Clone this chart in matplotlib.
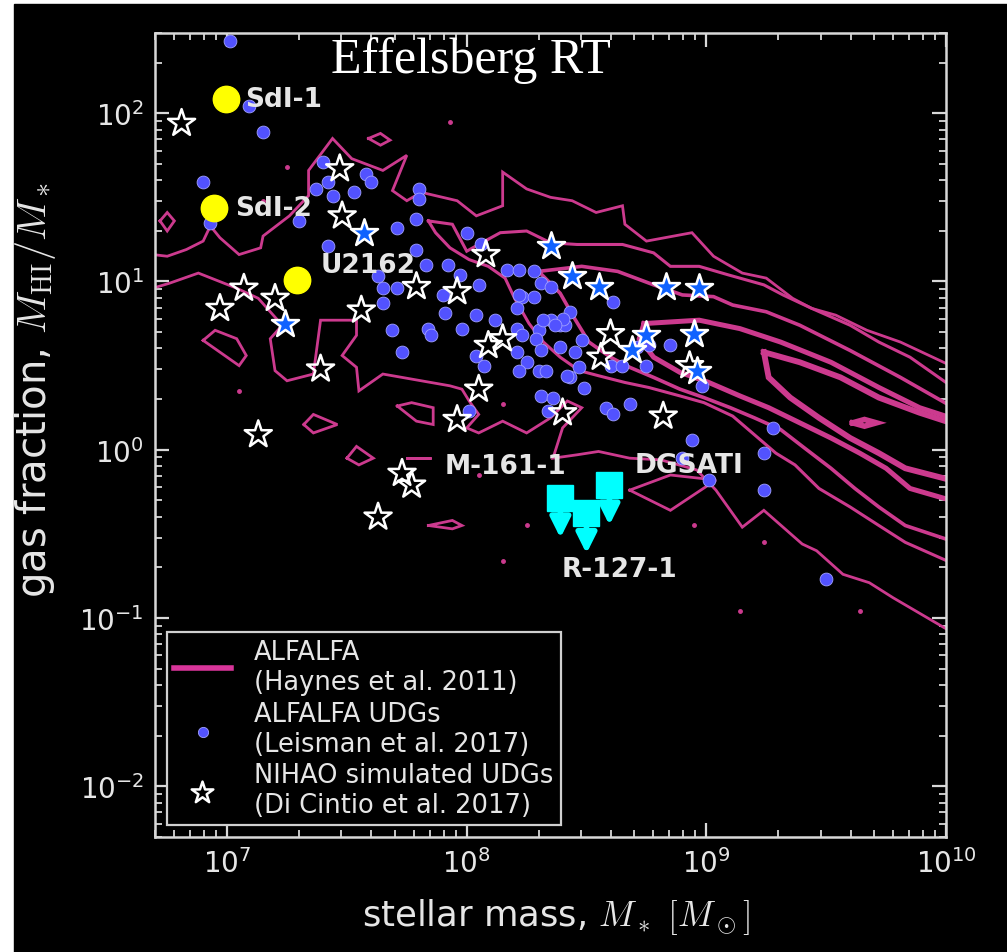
import numpy as np
import matplotlib
matplotlib.use("Agg")
import matplotlib.pyplot as plt
from matplotlib.lines import Line2D
from matplotlib.patches import Rectangle

plt.rcParams["axes.unicode_minus"] = False

# ---------------- data (log10 M*, log10 M_HI/M*) ----------------
# ALFALFA UDGs (Leisman et al. 2017)
udg_logm = [7.01, 7.09, 7.15, 6.90, 6.93, 7.40, 7.42, 7.37, 7.44, 7.53,
            7.58, 7.60, 7.80, 7.80, 7.30, 7.42, 7.71, 7.79, 7.79, 8.00,
            7.83, 7.92, 7.97, 8.06, 8.17, 8.22, 8.28, 8.31, 8.23, 8.21,
            8.05, 7.63, 7.65, 7.71, 7.90, 7.91, 7.98, 8.04, 8.12, 8.21,
            8.30, 8.35, 8.39, 8.32, 8.43, 7.65, 7.84, 7.85, 7.69, 7.73,
            8.04, 8.07, 8.23, 8.29, 8.31, 8.21, 8.25, 8.22, 8.30, 8.33,
            8.39, 8.45, 8.48, 8.47, 8.43, 8.49, 8.31, 8.36, 8.34, 8.01,
            8.41, 8.60, 8.65, 8.71, 8.76, 8.85, 8.75, 8.58, 8.61, 8.68,
            8.98, 8.94, 8.90, 9.01, 9.24, 9.28, 9.24, 9.50, 8.35, 8.61,
            8.40, 8.37, 8.28, 8.22, 8.42]
udg_logf = [2.43, 2.04, 1.89, 1.59, 1.35, 1.71, 1.59, 1.55, 1.51, 1.53,
            1.64, 1.59, 1.55, 1.49, 1.36, 1.21, 1.32, 1.37, 1.19, 1.29,
            1.10, 1.10, 1.04, 1.22, 1.07, 1.07, 1.06, 0.99, 0.91, 0.84,
            0.98, 1.03, 0.96, 0.96, 0.92, 0.81, 0.72, 0.80, 0.77, 0.72,
            0.71, 0.77, 0.74, 0.77, 0.82, 0.87, 0.72, 0.68, 0.71, 0.58,
            0.56, 0.50, 0.68, 0.66, 0.59, 0.58, 0.52, 0.47, 0.47, 0.47,
            0.61, 0.58, 0.65, 0.49, 0.43, 0.37, 0.32, 0.31, 0.23, 0.23,
            0.74, 0.50, 0.50, 0.61, 0.62, 0.62, 0.50, 0.25, 0.21, 0.27,
            0.38, 0.06, -0.05, -0.18, -0.02, 0.13, -0.24, -0.77, 0.97, 0.88,
            0.78, 0.74, 0.91, 0.92, 0.44]

# NIHAO simulated UDGs (Di Cintio et al. 2017)
nihao_logm = [6.81, 7.47, 7.48, 7.79, 7.96, 8.08, 6.97, 7.07, 7.20, 7.56,
              7.39, 8.05, 7.96, 8.09, 8.15, 8.40, 7.13, 7.73, 7.77, 7.63,
              8.60, 8.56, 8.82, 8.93]
nihao_logf = [1.94, 1.67, 1.39, 0.97, 0.94, 1.16, 0.84, 0.96, 0.90, 0.83,
              0.48, 0.36, 0.18, 0.62, 0.66, 0.22, 0.09, -0.14, -0.21, -0.40,
              0.69, 0.55, 0.20, 0.50]
# highlighted NIHAO subset
nihao_hl_logm = [7.57, 8.35, 8.44, 8.55, 8.83, 8.97, 7.24, 8.75, 8.69, 8.95, 8.96]
nihao_hl_logf = [1.29, 1.21, 1.03, 0.97, 0.97, 0.96, 0.75, 0.68, 0.59, 0.69, 0.47]

# Effelsberg detections
eff_names = ["SdI-1", "SdI-2", "U2162"]
eff_mstar = [9.9e6, 8.8e6, 1.96e7]
eff_frac = [121.0, 27.3, 10.2]

# Effelsberg upper limits
lim_names = ["M-161-1", "R-127-1", "DGSATI"]
lim_mstar = [2.46e8, 3.16e8, 3.94e8]
lim_frac = [0.52, 0.42, 0.62]

# ALFALFA (Haynes et al. 2011) density contours, log10 units
c1_top_logm = [6.69, 6.75, 6.83, 6.90, 6.93, 6.97, 7.05, 7.14, 7.15, 7.26, 7.34, 7.34,
               7.44, 7.52, 7.65, 7.75, 7.69, 7.75, 7.81, 7.96, 8.04, 8.15, 8.15, 8.25,
               8.35, 8.44, 8.54, 8.65, 8.66, 8.75, 8.94, 9.03, 9.15, 9.25, 9.36, 9.44,
               9.54, 9.67, 9.81, 10.02]
c1_top_logf = [1.16, 1.15, 1.19, 1.24, 1.33, 1.26, 1.16, 1.20, 1.27, 1.39, 1.51, 1.66,
               1.85, 1.73, 1.66, 1.75, 1.54, 1.48, 1.53, 1.48, 1.39, 1.45, 1.65, 1.55,
               1.50, 1.48, 1.41, 1.45, 1.34, 1.24, 1.29, 1.15, 1.05, 1.02, 0.90, 0.84,
               0.80, 0.71, 0.64, 0.50]
c1_bot_logm = [10.02, 9.78, 9.68, 9.57, 9.46, 9.40, 9.32, 9.24, 9.15, 9.04, 8.96, 8.81,
               8.68, 8.55, 8.46, 8.36, 8.40, 8.48, 8.42, 8.35, 8.25, 8.15, 8.05, 8.00,
               8.05, 8.01, 7.98, 7.93, 7.65, 7.55, 7.54, 7.48, 7.54, 7.54, 7.39, 7.36,
               7.25, 7.20, 7.18, 7.23, 7.13, 7.04, 6.88, 6.76, 6.69]
c1_bot_logf = [-1.08, -0.88, -0.79, -0.74, -0.60, -0.56, -0.46, -0.36, -0.46, -0.24, -0.12, -0.06,
               -0.05, -0.01, -0.03, -0.05, 0.13, 0.25, 0.29, 0.19, 0.10, 0.17, 0.10, 0.13,
               0.21, 0.29, 0.36, 0.38, 0.45, 0.35, 0.49, 0.56, 0.68, 0.77, 0.77, 0.45,
               0.41, 0.47, 0.66, 0.74, 0.90, 0.96, 1.05, 0.99, 0.96]
c2_logm = [7.84, 7.94, 8.00, 8.05, 8.14, 8.25, 8.35, 8.46, 8.65, 8.78, 8.85, 8.97,
           9.09, 9.24, 9.32, 9.44, 9.60, 9.72, 9.85, 10.02, 10.02, 9.83, 9.72, 9.60,
           9.47, 9.37, 9.29, 9.20, 9.11, 8.99, 8.89, 8.76, 8.66, 8.55, 8.47, 8.39,
           8.32, 8.26, 8.20, 8.16, 8.09, 8.01, 7.93, 7.87, 7.84]
c2_logf = [1.36, 1.34, 1.18, 1.22, 1.29, 1.30, 1.23, 1.22, 1.22, 1.17, 1.09, 1.09,
           1.04, 0.98, 0.92, 0.84, 0.74, 0.64, 0.55, 0.38, -0.67, -0.55, -0.45, -0.34,
           -0.23, -0.09, -0.02, 0.09, 0.20, 0.28, 0.32, 0.37, 0.40, 0.44, 0.47, 0.55,
           0.64, 0.75, 0.90, 1.02, 1.09, 1.13, 1.20, 1.29, 1.36]
c3_logm = [8.30, 8.48, 8.63, 8.78, 8.90, 9.03, 9.11, 9.25, 9.39, 9.60, 9.81, 10.02,
           10.02, 9.83, 9.72, 9.62, 9.52, 9.41, 9.31, 9.20, 9.10, 8.99, 8.89, 8.78,
           8.68, 8.60, 8.51, 8.45, 8.39, 8.30]
c3_logf = [1.06, 1.09, 1.06, 0.98, 0.92, 0.91, 0.86, 0.82, 0.74, 0.59, 0.43, 0.26,
           -0.54, -0.45, -0.34, -0.23, -0.11, 0.01, 0.12, 0.19, 0.25, 0.31, 0.36, 0.43,
           0.49, 0.55, 0.64, 0.78, 0.93, 1.06]
c4_logm = [8.74, 8.97, 9.14, 9.31, 9.52, 9.72, 9.89, 10.02, 10.02, 9.85, 9.75, 9.64,
           9.52, 9.39, 9.26, 9.14, 9.01, 8.89, 8.78, 8.72, 8.74]
c4_logf = [0.75, 0.77, 0.72, 0.64, 0.52, 0.37, 0.25, 0.19, -0.30, -0.23, -0.11, -0.02,
           0.07, 0.16, 0.25, 0.32, 0.40, 0.46, 0.55, 0.66, 0.75]
c5_logm = [9.24, 9.39, 9.56, 9.72, 9.89, 10.02, 10.02, 9.83, 9.72, 9.60, 9.47, 9.35,
           9.26, 9.24]
c5_logf = [0.58, 0.52, 0.43, 0.31, 0.22, 0.16, -0.18, -0.11, -0.02, 0.07, 0.19, 0.31,
           0.43, 0.58]
c6_logm = [9.61, 9.66, 9.71, 9.66, 9.61]
c6_logf = [0.16, 0.18, 0.16, 0.14, 0.16]
# small isolated islands of the lowest level
isl_a_logm = [6.90, 6.95, 7.04, 7.08, 7.05, 6.90]
isl_a_logf = [0.65, 0.71, 0.66, 0.56, 0.50, 0.65]
isl_b_logm = [7.32, 7.36, 7.46, 7.36, 7.32]
isl_b_logf = [0.15, 0.21, 0.15, 0.10, 0.15]
isl_c_logm = [7.50, 7.54, 7.61, 7.55, 7.50]
isl_c_logf = [-0.05, 0.02, -0.05, -0.09, -0.05]
isl_d_logm = [7.71, 7.77, 7.86, 7.86, 7.79, 7.71]
isl_d_logf = [0.26, 0.28, 0.25, 0.15, 0.17, 0.26]
isl_e_logm = [7.84, 7.94, 7.98, 7.94, 7.84]
isl_e_logf = [-0.45, -0.42, -0.45, -0.47, -0.45]
isl_f_logm = [7.75, 7.85, 7.75]
isl_f_logf = [-0.05, -0.05, -0.05]
isl_g_logm = [6.72, 6.75, 6.78, 6.75, 6.72]
isl_g_logf = [1.36, 1.41, 1.36, 1.30, 1.36]
isl_h_logm = [7.59, 7.64, 7.68, 7.64, 7.59]
isl_h_logf = [1.85, 1.88, 1.84, 1.81, 1.85]
isl_i_logm = [8.68, 8.85, 9.04, 8.85, 8.68]
isl_i_logf = [-0.24, -0.15, -0.18, -0.36, -0.24]
spec_logm = [7.25, 7.15, 7.93, 7.05, 8.15, 8.05, 8.25, 8.15, 8.95, 9.24, 9.14, 9.64]
spec_logf = [1.68, 1.48, 1.95, 0.35, 0.27, -0.15, -0.45, -0.66, -0.45, -0.55, -0.96, -0.96]

# ---------------- styling ----------------
CONT = "#cc3a8e"
FG = "#e6e6e6"

fig = plt.figure(figsize=(10.07, 9.53), dpi=100)
fig.patch.set_facecolor("white")
fig.add_artist(Rectangle((14 / 1007, 0), 1 - 14 / 1007, 948 / 953,
                         transform=fig.transFigure, color="black", zorder=-10))
ax = fig.add_axes([0.1539, 0.1207, 0.7855, 0.8437])
ax.set_facecolor("black")
ax.set_xscale("log")
ax.set_yscale("log")
ax.set_xlim(5e6, 1e10)
ax.set_ylim(5e-3, 300)


def draw(lm, lf, lw):
    ax.plot(10 ** np.asarray(lm), 10 ** np.asarray(lf), color=CONT, lw=lw,
            solid_joinstyle="miter", zorder=2)


draw(c1_top_logm, c1_top_logf, 2.0)
draw(c1_bot_logm, c1_bot_logf, 2.0)
for lm, lf in [(isl_a_logm, isl_a_logf), (isl_b_logm, isl_b_logf), (isl_c_logm, isl_c_logf),
               (isl_d_logm, isl_d_logf), (isl_e_logm, isl_e_logf), (isl_f_logm, isl_f_logf),
               (isl_g_logm, isl_g_logf), (isl_h_logm, isl_h_logf), (isl_i_logm, isl_i_logf)]:
    draw(lm, lf, 2.0)
draw(c2_logm, c2_logf, 2.2)
draw(c3_logm, c3_logf, 2.6)
draw(c4_logm, c4_logf, 3.6)
draw(c5_logm, c5_logf, 4.2)
draw(c6_logm, c6_logf, 4.0)
ax.plot(10 ** np.asarray(spec_logm), 10 ** np.asarray(spec_logf), ls="none",
        marker="o", ms=2.5, color=CONT, zorder=2)

# UDG samples
dots = ax.scatter(10 ** np.asarray(udg_logm), 10 ** np.asarray(udg_logf), s=85,
                  color="#5252ff", edgecolors="#a0a0ff", linewidths=0.6, zorder=3)
stars = ax.scatter(10 ** np.asarray(nihao_logm), 10 ** np.asarray(nihao_logf), s=420,
                   marker="*", facecolors="none", edgecolors="white", linewidths=1.8, zorder=4)
ax.scatter(10 ** np.asarray(nihao_hl_logm), 10 ** np.asarray(nihao_hl_logf), s=420,
           marker="*", facecolors="#0f62ff", edgecolors="white", linewidths=1.8, zorder=4)

# Effelsberg detections
ax.plot(eff_mstar, eff_frac, ls="none", marker="o", ms=19, color="#ffff00", zorder=5)
eff_offsets = [(14, 0), (15, 0), (17, 11)]
for name, x, y, off in zip(eff_names, eff_mstar, eff_frac, eff_offsets):
    ax.annotate(name, (x, y), xytext=off, textcoords="offset points", ha="left",
                va="center", color=FG, fontsize=19, fontweight="bold", zorder=6)

# Effelsberg upper limits
for x, y in zip(lim_mstar, lim_frac):
    ax.annotate("", xy=(x, y * 10 ** -0.24), xytext=(x, y),
                arrowprops=dict(arrowstyle="-|>", color="#00ffff", lw=4,
                                mutation_scale=30, shrinkA=0, shrinkB=0), zorder=5)
ax.plot(lim_mstar, lim_frac, ls="none", marker="s", ms=19, color="#00ffff", zorder=5)
lim_offsets = [(4, 23, "right"), (-18, -40, "left"), (18, 14, "left")]
for name, x, y, (dx, dy, ha) in zip(lim_names, lim_mstar, lim_frac, lim_offsets):
    ax.annotate(name, (x, y), xytext=(dx, dy), textcoords="offset points", ha=ha,
                va="center", color=FG, fontsize=19, fontweight="bold", zorder=6)

# axes decoration
for sp in ax.spines.values():
    sp.set_color("#d8d8d8")
    sp.set_linewidth(1.8)
ax.tick_params(which="both", direction="in", top=True, right=True, color="#d8d8d8",
               labelcolor=FG, labelsize=20, pad=8)
ax.tick_params(which="major", length=10, width=1.6)
ax.tick_params(which="minor", length=5, width=1.3)
ax.set_xlabel(r"stellar mass, $M_*$ $[M_\odot]$", color=FG, fontsize=25.5,
              math_fontfamily="cm")
ax.xaxis.set_label_coords(0.507, -0.073)
ax.set_ylabel(r"gas fraction, $M_{\rm HI}/M_*$", color=FG, fontsize=29,
              math_fontfamily="cm")
ax.yaxis.set_label_coords(-0.122, 0.557)

fig.text(0.4677, 1 - 73 / 953, "Effelsberg RT", family="Liberation Serif",
         fontsize=36, color="white", ha="center", va="baseline")

handles = [Line2D([], [], color="#d8359a", lw=4), dots, stars]
labels = ["ALFALFA\n(Haynes et al. 2011)", "ALFALFA UDGs\n(Leisman et al. 2017)",
          "NIHAO simulated UDGs\n(Di Cintio et al. 2017)"]
leg = ax.legend(handles, labels, loc="lower left", fontsize=18.5, frameon=True,
                fancybox=False, facecolor="black", edgecolor="#d0d0d0", framealpha=1,
                labelcolor=FG, handlelength=2.2, handletextpad=0.9, labelspacing=0.2,
                borderaxespad=0.45, borderpad=0.3, markerscale=0.8)
leg.get_frame().set_linewidth(1.6)

fig.savefig("out.png", dpi=100, facecolor=fig.get_facecolor())
